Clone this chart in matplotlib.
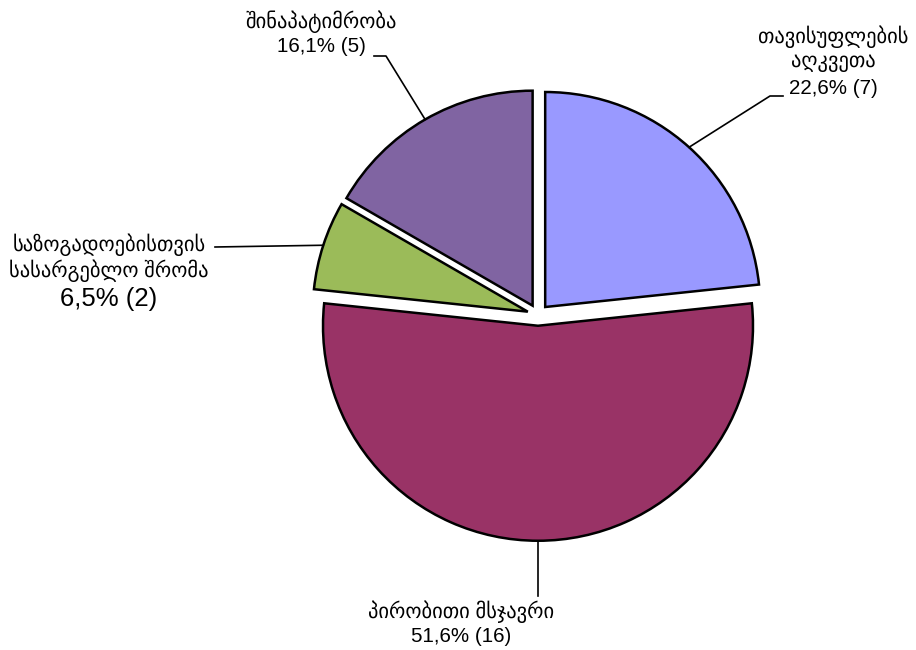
import matplotlib.pyplot as plt
import numpy as np

# slices, clockwise from 12 o'clock
names = ['თავისუფლების\nაღკვეთა', 'პირობითი მსჯავრი',
         'საზოგადოებისთვის\nსასარგებლო შრომა', 'შინაპატიმრობა']
counts = [7, 16, 2, 5]
pct_text = ['22,6%', '51,6%', '6,5%', '16,1%']
colors = ['#9999FF', '#993366', '#9BBB59', '#8064A2']

W, H = 916, 650
CX, CY, R = 538, 315, 215  # pie centre / radius in pixels


def px(x, y):
    # pixel (from top-left) -> data units of the pie
    return (x - CX) / R, (CY - y) / R


fig = plt.figure(figsize=(W / 100, H / 100), dpi=100)
ax = fig.add_axes([0, 0, 1, 1])
explode = 0.05
wedges, _ = ax.pie(counts, colors=colors, startangle=90, counterclock=False,
                   explode=[explode] * len(counts), radius=1,
                   wedgeprops=dict(edgecolor='black', linewidth=1.8))
ax.set_aspect('auto')
ax.set_xlim(-CX / R, (W - CX) / R)
ax.set_ylim(-(H - CY) / R, CY / R)
ax.axis('off')

# label layout (pixels): text centre x, first line y, line step, leader elbow points
layout = [
    dict(x=833, y=37, step=25.5, elbow=[(770, 96), (783, 96)], big=False),
    dict(x=461, y=612, step=25, elbow=[None, (538, 596)], big=False),
    dict(x=109, y=245, step=26, elbow=[(215, 247)], big=True),
    dict(x=321, y=22, step=25, elbow=[(386, 56), (374, 56)], big=False),
]

fam = ['Liberation Sans', 'DejaVu Sans']
for w, name, n, pct, lay in zip(wedges, names, counts, pct_text, layout):
    mid = np.deg2rad((w.theta1 + w.theta2) / 2)
    ax0 = (1 + explode) * np.cos(mid)
    ay0 = (1 + explode) * np.sin(mid)
    pts = [(ax0, ay0)]
    for e in lay['elbow']:
        if e is None:
            pts.append((pts[-1][0], px(0, 596)[1]))
        else:
            ex, ey = px(*e)
            if lay['elbow'][0] is None:
                ex = ax0
            pts.append((ex, ey))
    xs, ys = zip(*pts)
    ax.plot(xs, ys, color='black', lw=1.2)

    lines = name.split('\n') + [f'{pct} ({n})']
    for i, t in enumerate(lines):
        last = i == len(lines) - 1
        size = 18.5 if (last and lay['big']) else 14.8
        tx, ty = px(lay['x'], lay['y'] + i * lay['step'] + (2 if (last and lay['big']) else 0))
        ax.text(tx, ty, t, ha='center', va='center', fontsize=size,
                family=fam, color='black')

fig.savefig('out.png', dpi=100)
